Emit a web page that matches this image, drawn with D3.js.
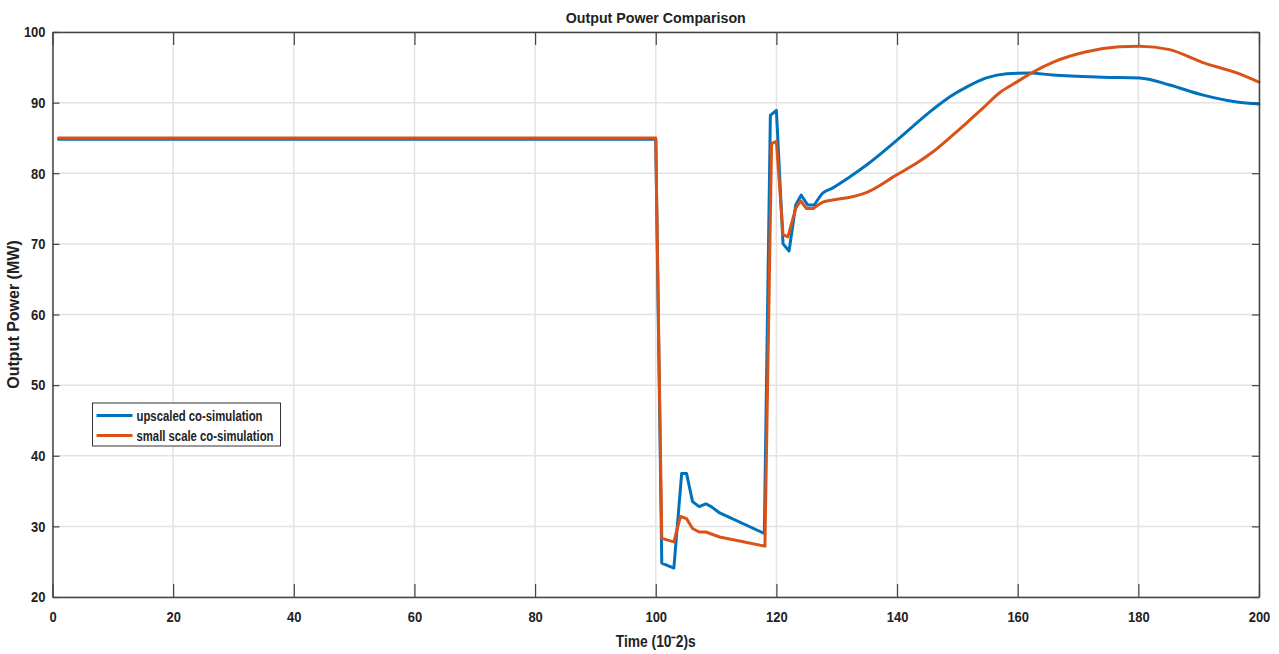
<!DOCTYPE html>
<html>
<head>
<meta charset="utf-8">
<script src="https://cdn.jsdelivr.net/npm/d3@7"></script>
<style>
  body { margin: 0; background: #fff; }
  text { font-family: "Liberation Sans", Arial, sans-serif; font-weight: bold; fill: #222; }
</style>
</head>
<body>
<div id="chart"></div>
<script>
// series: [time, MW]
const upscaled = [
  [1, 84.8], [100, 84.8], [101, 24.8], [103, 24.1], [104.3, 37.5], [105.1, 37.5],
  [106.1, 33.5], [107.2, 32.8], [108.3, 33.2], [109.2, 32.8], [110.6, 31.9], [118, 29.0],
  [119, 88.2], [120, 88.9], [121.1, 70.0], [122.1, 69.0], [123.2, 75.5], [124.1, 76.9],
  [125.2, 75.5], [126.3, 75.5], [127.7, 77.2], [129.3, 77.9], [132.2, 79.5], [135, 81.2],
  [140, 84.7], [145.9, 89.0], [148.7, 90.8], [151.5, 92.2], [154.8, 93.5], [158.2, 94.1],
  [162, 94.2], [165.8, 93.9], [174.1, 93.6], [180.2, 93.5], [185.2, 92.5], [190.6, 91.1],
  [196.3, 90.1], [200, 89.8]
];
const smallScale = [
  [1, 85.0], [100, 85.0], [101, 28.3], [103, 27.8], [104.1, 31.4], [105.1, 31.1],
  [106.1, 29.7], [107.2, 29.2], [108.3, 29.2], [110.6, 28.5], [118.1, 27.2],
  [119.2, 84.2], [120, 84.5], [121.1, 71.3], [121.9, 71.0], [123.2, 75.0], [124, 76.1],
  [125, 75.0], [126.1, 75.0], [127.7, 75.9], [129.3, 76.2], [132.2, 76.6], [135, 77.3],
  [140, 79.8], [143.2, 81.4], [145.9, 83.0], [148.7, 85.0], [151.5, 87.1], [154.2, 89.2],
  [157, 91.4], [159.8, 92.9], [162.5, 94.3], [165.8, 95.7], [171.4, 97.2], [176.8, 97.9],
  [180.2, 98.0], [185.2, 97.5], [190.6, 95.7], [196.3, 94.2], [200, 92.9]
];
const xTicks = [0, 20, 40, 60, 80, 100, 120, 140, 160, 180, 200];
const yTicks = [20, 30, 40, 50, 60, 70, 80, 90, 100];
const seriesNames = ["upscaled co-simulation", "small scale co-simulation"];
const seriesColors = ["#0072BD", "#D95319"];

const width = 1279, height = 654;
const margin = { top: 32, right: 20, bottom: 57, left: 52.5 };

const svg = d3.select("#chart").append("svg")
  .attr("width", width)
  .attr("height", height);

const x = d3.scaleLinear().domain([0, 200]).range([margin.left, width - margin.right]);
const y = d3.scaleLinear().domain([20, 100]).range([height - margin.bottom, margin.top]);

// grid
svg.append("g")
  .selectAll("line")
  .data(xTicks)
  .enter().append("line")
  .attr("x1", d => x(d)).attr("x2", d => x(d))
  .attr("y1", y(20)).attr("y2", y(100))
  .attr("stroke", "#e3e3e3").attr("stroke-width", 1.5);
svg.append("g")
  .selectAll("line")
  .data(yTicks)
  .enter().append("line")
  .attr("x1", x(0)).attr("x2", x(200))
  .attr("y1", d => y(d)).attr("y2", d => y(d))
  .attr("stroke", "#e3e3e3").attr("stroke-width", 1.5);

// lines: sharp segments through the transient, smooth after it
const splitAt = 126;
const lineSharp = d3.line().x(d => x(d[0])).y(d => y(d[1]));
const lineSmooth = d3.line().curve(d3.curveMonotoneX).x(d => x(d[0])).y(d => y(d[1]));
[upscaled, smallScale].forEach((s, i) => {
  const k = s.findIndex(d => d[0] >= splitAt);
  [[s.slice(0, k + 1), lineSharp], [s.slice(k), lineSmooth]].forEach(([part, gen]) => {
    svg.append("path")
      .datum(part)
      .attr("fill", "none")
      .attr("stroke", seriesColors[i])
      .attr("stroke-width", 3)
      .attr("stroke-linejoin", "round")
      .attr("stroke-linecap", "round")
      .attr("d", gen);
  });
});

// axes with inward ticks (box style)
const axisColor = "#444";
svg.append("g")
  .attr("transform", "translate(0," + y(20) + ")")
  .call(d3.axisBottom(x).tickValues(xTicks).tickSizeInner(-13).tickSizeOuter(0).tickPadding(14));
svg.append("g")
  .attr("transform", "translate(" + x(0) + ",0)")
  .call(d3.axisLeft(y).tickValues(yTicks).tickSizeInner(-7).tickSizeOuter(0).tickPadding(7));
svg.append("g")
  .attr("transform", "translate(0," + y(100) + ")")
  .call(d3.axisTop(x).tickValues(xTicks).tickSizeInner(-13).tickSizeOuter(0).tickFormat(""));
svg.append("g")
  .attr("transform", "translate(" + x(200) + ",0)")
  .call(d3.axisRight(y).tickValues(yTicks).tickSizeInner(-7).tickSizeOuter(0).tickFormat(""));

svg.selectAll(".domain").attr("stroke", axisColor).attr("stroke-width", 1.5);
svg.selectAll(".tick line").attr("stroke", axisColor).attr("stroke-width", 1.2);
// narrow look of the original font
svg.selectAll(".tick text")
  .style("font-size", "15px")
  .attr("fill", "#222")
  .attr("lengthAdjust", "spacingAndGlyphs")
  .attr("textLength", function() { return this.textContent.length * 7.2; });

// titles
svg.append("text")
  .attr("x", (x(0) + x(200)) / 2).attr("y", 23)
  .attr("text-anchor", "middle")
  .attr("lengthAdjust", "spacingAndGlyphs").attr("textLength", 180)
  .style("font-size", "15px")
  .text("Output Power Comparison");

svg.append("text")
  .attr("x", (x(0) + x(200)) / 2).attr("y", 647)
  .attr("text-anchor", "middle")
  .attr("lengthAdjust", "spacingAndGlyphs").attr("textLength", 80)
  .style("font-size", "16px")
  .text("Time (10⁻2)s");

svg.append("text")
  .attr("transform", "translate(19," + (y(60)) + ") rotate(-90)")
  .attr("text-anchor", "middle")
  .style("font-size", "16px")
  .text("Output Power (MW)");

// legend
const legend = svg.append("g").attr("transform", "translate(92.5,403)");
legend.append("rect")
  .attr("width", 188).attr("height", 43)
  .attr("fill", "#fff").attr("stroke", "#333").attr("stroke-width", 1);
const legendWidths = [126, 137];
seriesNames.forEach((name, i) => {
  const ly = 12.5 + i * 20;
  legend.append("line")
    .attr("x1", 4).attr("x2", 40).attr("y1", ly).attr("y2", ly)
    .attr("stroke", seriesColors[i]).attr("stroke-width", 3);
  legend.append("text")
    .attr("x", 44).attr("y", ly + 5)
    .attr("lengthAdjust", "spacingAndGlyphs").attr("textLength", legendWidths[i])
    .style("font-size", "14px")
    .text(name);
});
</script>
</body>
</html>
